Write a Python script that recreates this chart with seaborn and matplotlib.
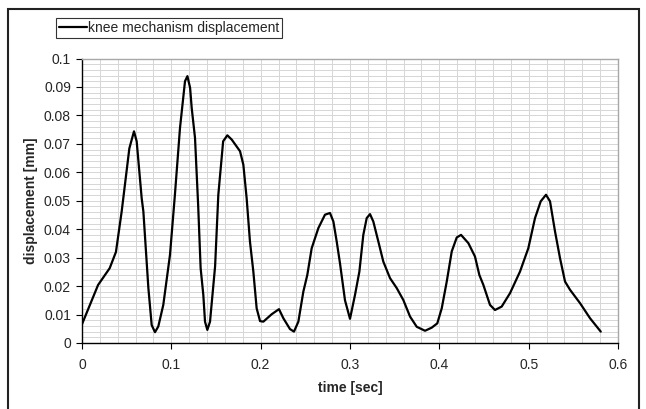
import matplotlib
matplotlib.use("Agg")
import matplotlib.pyplot as plt
import matplotlib.patches as mpatches
from matplotlib.ticker import MultipleLocator
import seaborn as sns
import pandas as pd

time_sec = [0.000, 0.018, 0.031, 0.038, 0.0444, 0.053, 0.0582, 0.0612, 0.0668, 0.0687,
            0.0743, 0.078, 0.0817, 0.0854, 0.091, 0.0985, 0.104, 0.1097, 0.1153, 0.118,
            0.121, 0.1228, 0.1265, 0.130, 0.1328, 0.1358, 0.1377, 0.1403, 0.1433, 0.149,
            0.1526, 0.158, 0.1627, 0.1676, 0.1769, 0.1806, 0.1843, 0.188, 0.1918, 0.1955,
            0.1993, 0.203, 0.2123, 0.2205, 0.2254, 0.2328, 0.2373, 0.2422, 0.2478, 0.2522,
            0.2571, 0.2646, 0.272, 0.2776, 0.2814, 0.2851, 0.2888, 0.2944, 0.300, 0.3056,
            0.3105, 0.3149, 0.3187, 0.3224, 0.3261, 0.3317, 0.3373, 0.3448, 0.3523, 0.3597,
            0.3672, 0.3747, 0.384, 0.3915, 0.3977, 0.4027, 0.4083, 0.4139, 0.4195, 0.4243,
            0.4325, 0.4399, 0.4448, 0.4493, 0.4567, 0.4623, 0.4698, 0.4791, 0.4903, 0.4996,
            0.5071, 0.5135, 0.5194, 0.5239, 0.5295, 0.5351, 0.5407, 0.5463, 0.5575, 0.5687,
            0.5807]
displacement_mm = [0.0066, 0.0204, 0.0263, 0.0320, 0.0462, 0.0684, 0.0744, 0.0709, 0.0509, 0.0462,
                   0.0193, 0.0063, 0.0038, 0.0058, 0.0134, 0.0310, 0.0521, 0.0756, 0.0920, 0.0938,
                   0.0897, 0.0826, 0.0721, 0.0486, 0.0263, 0.0169, 0.0075, 0.0046, 0.0075, 0.0270,
                   0.0521, 0.0709, 0.0730, 0.0715, 0.0674, 0.0627, 0.0509, 0.0357, 0.0251, 0.0122,
                   0.0077, 0.0075, 0.0101, 0.0119, 0.0087, 0.0049, 0.0040, 0.0075, 0.0181, 0.0239,
                   0.0333, 0.0404, 0.0451, 0.0457, 0.0427, 0.0357, 0.0280, 0.0150, 0.0085, 0.0169,
                   0.0251, 0.0380, 0.0439, 0.0453, 0.0427, 0.0357, 0.0286, 0.0228, 0.0193, 0.0151,
                   0.0093, 0.0057, 0.0043, 0.0054, 0.0069, 0.0122, 0.0216, 0.0322, 0.0371, 0.0380,
                   0.0351, 0.0304, 0.0239, 0.0204, 0.0134, 0.0116, 0.0128, 0.0175, 0.0251, 0.0333,
                   0.0439, 0.0498, 0.0521, 0.0498, 0.0392, 0.0298, 0.0216, 0.0187, 0.0140, 0.0087,
                   0.0040]
series_name = "knee mechanism displacement"
x_ticks = [0, 0.1, 0.2, 0.3, 0.4, 0.5, 0.6]
x_tick_labels = ["0", "0.1", "0.2", "0.3", "0.4", "0.5", "0.6"]
y_ticks = [0, 0.01, 0.02, 0.03, 0.04, 0.05, 0.06, 0.07, 0.08, 0.09, 0.1]
y_tick_labels = ["0", "0.01", "0.02", "0.03", "0.04", "0.05", "0.06", "0.07", "0.08", "0.09", "0.1"]

df = pd.DataFrame({"time": time_sec, "disp": displacement_mm})

sns.set_style("white")
plt.rcParams["font.family"] = ["Liberation Sans", "DejaVu Sans"]

W, H = 646, 409
fig = plt.figure(figsize=(W / 100, H / 100), dpi=100)
ax = fig.add_axes([82 / W, 1 - 343 / H, (618 - 82) / W, (343 - 58.5) / H])

sns.lineplot(data=df, x="time", y="disp", sort=False, color="black", linewidth=1.6,
             ax=ax, legend=False)

ax.set_xlim(0, 0.6)
ax.set_ylim(0, 0.1)
ax.set_xticks(x_ticks)
ax.set_xticklabels(x_tick_labels)
ax.set_yticks(y_ticks)
ax.set_yticklabels(y_tick_labels)
ax.xaxis.set_minor_locator(MultipleLocator(0.02))
ax.yaxis.set_minor_locator(MultipleLocator(0.002))
ax.grid(True, which="both", color="#d6d6d6", linewidth=0.7)
ax.set_axisbelow(True)

ax.tick_params(axis="both", which="major", direction="out", length=4, width=0.8,
               color="black", labelsize=10, left=True, bottom=True)
ax.tick_params(axis="x", which="major", pad=7)
ax.tick_params(axis="y", which="major", pad=4)
ax.tick_params(axis="both", which="minor", length=0)

for s in ["left", "bottom"]:
    ax.spines[s].set_color("black")
    ax.spines[s].set_linewidth(1.0)
for s in ["top", "right"]:
    ax.spines[s].set_color("#a8a8a8")
    ax.spines[s].set_linewidth(1.0)

ax.set_xlabel("time [sec]", fontsize=10, fontweight="bold", labelpad=6.5)
ax.set_ylabel("displacement [mm]", fontsize=10, fontweight="bold", labelpad=4)

handle = plt.Line2D([], [], color="black", linewidth=1.6)
fig.legend([handle], [series_name], loc="upper left",
           bbox_to_anchor=(56 / W, 1 - 18 / H), frameon=True, fancybox=False,
           edgecolor="black", borderaxespad=0, borderpad=0.2, handlelength=2.0,
           handletextpad=0.1, fontsize=10).get_frame().set_linewidth(0.8)

border = mpatches.Rectangle((8 / W, -0.05), (639 - 8) / W, 1 - 9 / H + 0.05,
                            transform=fig.transFigure, fill=False, edgecolor="#222222",
                            linewidth=1.5, clip_on=False)
fig.patches.append(border)

fig.savefig("out.png", dpi=100, facecolor="white")
